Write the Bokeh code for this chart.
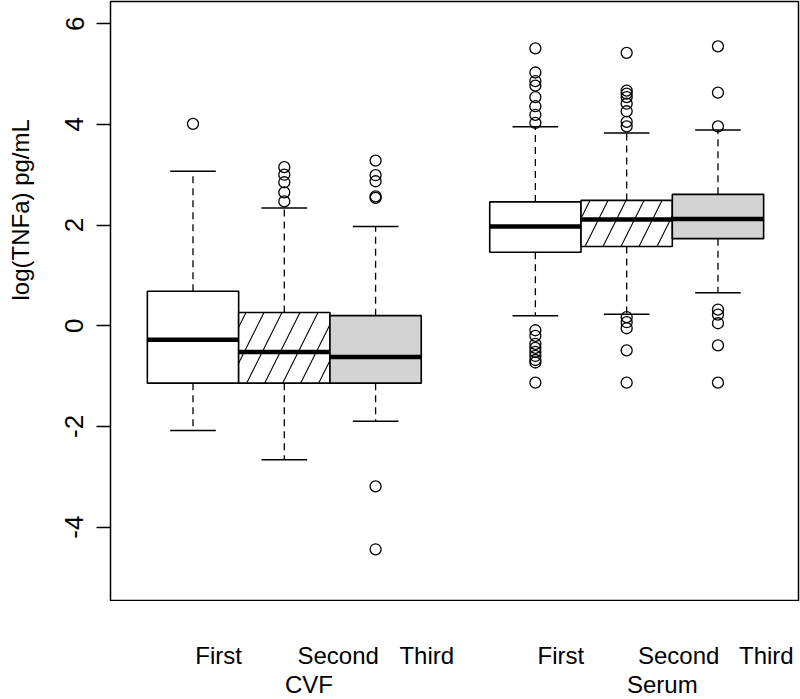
from math import pi
from bokeh.plotting import figure
from bokeh.layouts import row, column
from bokeh.models import ColumnDataSource, FixedTicker, LinearAxis, Range1d
from bokeh.core.properties import value
from bokeh.embed import file_html
from bokeh.resources import INLINE

# ---- data ----
groups = ["CVF", "Serum"]
visits = ["First", "Second", "Third", "First", "Second", "Third"]
positions = [1.0, 2.0, 3.0, 4.75, 5.75, 6.75]
q1 = [-1.14, -1.14, -1.14, 1.46, 1.575, 1.73]
med = [-0.28, -0.52, -0.62, 1.97, 2.11, 2.12]
q3 = [0.685, 0.264, 0.20, 2.46, 2.49, 2.61]
whisk_lo = [-2.08, -2.66, -1.895, 0.20, 0.23, 0.655]
whisk_hi = [3.07, 2.34, 1.97, 3.95, 3.83, 3.89]
outliers = [
    [4.01],
    [3.15, 3.0, 2.85, 2.65, 2.47],
    [3.28, 2.99, 2.87, 2.57, 2.54, -3.19, -4.44],
    [5.51, 5.03, 4.86, 4.77, 4.54, 4.36, 4.19, 4.03,
     -0.09, -0.2, -0.36, -0.44, -0.52, -0.6, -0.68, -0.73, -1.13],
    [5.42, 4.67, 4.61, 4.54, 4.41, 4.26, 4.05, 3.96,
     0.17, 0.07, -0.05, -0.49, -1.13],
    [5.55, 4.63, 3.96, 0.32, 0.22, 0.05, -0.39, -1.13],
]
fills = ["white", "white", "#d3d3d3", "white", "white", "#d3d3d3"]
hatches = [" ", "/", " ", " ", "/", " "]
y_ticks = [-4, -2, 0, 2, 4, 6]
y_tick_labels = ["-4", "-2", "0", "2", "4", "6"]
y_title = "log(TNFa) pg/mL"

# layout of the texts around the plot (not data)
visit_label_x = [1.28, 2.59, 3.56, 5.03, 6.32, 7.28]   # x in data units
group_label_x = [2.27, 6.14]
VISIT_ROW_Y = 54      # px below the plot frame (text centre)
GROUP_ROW_Y = 83
TITLE_X, TITLE_Y = 20, 300   # px in page: start of the rotated y title

FONT = "Liberation Sans"
FS = "24px"

box_w = 1.0
cap_w = 0.5

box_src = ColumnDataSource(dict(
    left=[x - box_w / 2 for x in positions],
    right=[x + box_w / 2 for x in positions],
    bottom=q1, top=q3, fill=fills, hatch=hatches,
))
med_src = ColumnDataSource(dict(
    x0=[x - box_w / 2 for x in positions],
    x1=[x + box_w / 2 for x in positions],
    y=med,
))
wh_src = ColumnDataSource(dict(
    x=positions + positions,
    y0=q3 + q1,
    y1=whisk_hi + whisk_lo,
))
cap_src = ColumnDataSource(dict(
    x0=[x - cap_w / 2 for x in positions] * 2,
    x1=[x + cap_w / 2 for x in positions] * 2,
    y=whisk_hi + whisk_lo,
))
ox, oy = [], []
for x, vals in zip(positions, outliers):
    for v in vals:
        ox.append(x)
        oy.append(v)
out_src = ColumnDataSource(dict(x=ox, y=oy))

TITLE_W = 50
xr = Range1d(0.0964, 7.632)

# ---- main plot ----
p = figure(width=800 - TITLE_W, height=601,
           x_range=xr, y_range=Range1d(-5.477, 6.44),
           output_backend="svg", toolbar_location=None,
           x_axis_type=None, y_axis_type=None,
           min_border_left=110 - TITLE_W, min_border_right=2,
           min_border_top=1, min_border_bottom=0)
p.outline_line_color = "black"
p.outline_line_width = 1.5
p.background_fill_color = "white"
p.border_fill_color = "white"

yaxis = LinearAxis(ticker=FixedTicker(ticks=y_ticks),
                   major_label_overrides=dict(zip(y_ticks, y_tick_labels)))
yaxis.axis_line_color = None
yaxis.major_tick_out = 14
yaxis.major_tick_in = 0
yaxis.major_tick_line_width = 1.5
yaxis.minor_tick_line_color = None
yaxis.major_label_orientation = "parallel"
yaxis.major_label_text_font = FONT
yaxis.major_label_text_font_size = "26px"
yaxis.major_label_text_color = "black"
yaxis.major_label_standoff = 13
p.add_layout(yaxis, "left")

# whiskers
p.segment(x0="x", y0="y0", x1="x", y1="y1", source=wh_src,
          line_color="black", line_width=1.3, line_dash="7 5")
p.segment(x0="x0", y0="y", x1="x1", y1="y", source=cap_src,
          line_color="black", line_width=1.5)
# boxes
p.quad(left="left", right="right", bottom="bottom", top="top", source=box_src,
       fill_color="fill", line_color="black", line_width=1.6,
       hatch_pattern="hatch", hatch_color="black", hatch_scale=36, hatch_weight=1.1)
# medians
p.segment(x0="x0", y0="y", x1="x1", y1="y", source=med_src,
          line_color="black", line_width=4.5)
# outliers
p.scatter(x="x", y="y", source=out_src, marker="circle", size=11,
          fill_color=None, line_color="black", line_width=1.3)

# ---- category labels under the plot ----
lab_h = 699 - 601
q = figure(width=800 - TITLE_W, height=lab_h,
           x_range=xr, y_range=Range1d(lab_h, 0),
           output_backend="svg", toolbar_location=None,
           x_axis_type=None, y_axis_type=None,
           min_border_left=110 - TITLE_W, min_border_right=0,
           min_border_top=0, min_border_bottom=0)
q.outline_line_color = None
q.background_fill_color = "white"
q.border_fill_color = "white"
q.text(x=visit_label_x, y=[VISIT_ROW_Y] * len(visits), text=visits,
       text_align="center", text_baseline="middle",
       text_font=value(FONT), text_font_size=value(FS), text_color="black")
q.text(x=group_label_x, y=[GROUP_ROW_Y] * len(groups), text=groups,
       text_align="center", text_baseline="middle",
       text_font=value(FONT), text_font_size=value(FS), text_color="black")

# ---- y title strip ----
t = figure(width=TITLE_W, height=699,
           x_range=Range1d(0, TITLE_W), y_range=Range1d(699, 0),
           output_backend="svg", toolbar_location=None,
           x_axis_type=None, y_axis_type=None,
           min_border_left=0, min_border_right=0,
           min_border_top=0, min_border_bottom=0)
t.outline_line_color = None
t.background_fill_color = "white"
t.border_fill_color = "white"
t.text(x=[TITLE_X], y=[TITLE_Y], text=[y_title], angle=pi / 2,
       text_align="left", text_baseline="middle",
       text_font=value(FONT), text_font_size=value(FS), text_color="black")

layout = row(t, column(p, q))
open("out.html", "w").write(file_html(layout, INLINE))
